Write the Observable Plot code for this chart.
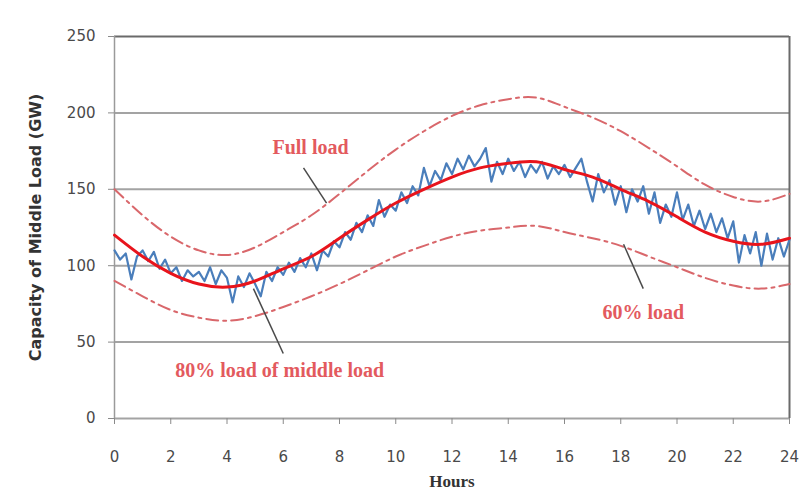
<!DOCTYPE html>
<html>
<head>
<meta charset="utf-8">
<script src="https://cdn.jsdelivr.net/npm/d3@7"></script>
<script src="https://cdn.jsdelivr.net/npm/@observablehq/plot@0.6"></script>
<style>
  html, body { margin: 0; padding: 0; background: #fff; }
  #chart { width: 799px; height: 493px; }
</style>
</head>
<body>
<div id="chart"></div>
<script>
// ---- data ----
const hours = [0,1,2,3,4,5,6,7,8,9,10,11,12,13,14,15,16,17,18,19,20,21,22,23,24];
const fullLoad   = [150,133,119,110,107,112,122,133,147,162,176,188,198,205,209,210,204,197,188,177,165,153,145,142,147];
const middleLoad = [120,106,95,88,86,90,98,106,118,130,141,150,158,164,167,168,163,158,150,142,132,122,116,114,118];
const load60     = [90,80,71,66,64,67,73,80,88,97,106,113,119,123,125,126,122,118,113,106,99,92,87,85,88];

// actual middle load, read every 0.2 h
const actualLoad = [
  110,104,108,91,106,110,
  103,109,98,104,95,
  99,90,97,93,96,
  90,99,88,97,92,
  76,93,86,95,88,
  80,96,90,99,94,
  102,96,105,99,108,
  97,110,106,116,112,
  122,117,128,122,133,
  126,143,132,140,136,
  148,141,152,146,164,
  152,162,156,167,160,
  170,163,172,165,170,
  177,155,168,160,170,
  162,168,158,166,161,
  168,157,165,160,166,
  158,164,170,155,142,
  160,148,156,140,152,
  135,150,142,152,134,
  148,128,140,132,148,
  130,140,126,136,124,
  134,122,131,118,129,
  102,120,108,122,100,
  121,104,118,106,117
];
const actualHours = actualLoad.map((_, i) => i * 0.2);

const xTicks = [0,2,4,6,8,10,12,14,16,18,20,22,24];
const yTicks = [0,50,100,150,200,250];

const labelTexts = ["Full load", "80% load of middle load", "60% load"];
const labelX = [6.97, 5.87, 18.8];
const labelY = [177, 31.4, 69.4];

const pointerX1 = [6.72, 4.94, 18.1];
const pointerY1 = [164, 85, 114];
const pointerX2 = [7.54, 6.0, 18.8];
const pointerY2 = [141, 42.5, 85];

// ---- build tables ----
const curves = hours.map((h, i) => ({h, full: fullLoad[i], mid: middleLoad[i], low: load60[i]}));
const actual = actualHours.map((h, i) => ({h, v: actualLoad[i]}));
const labels = labelTexts.map((t, i) => ({t, x: labelX[i], y: labelY[i]}));
const pointers = labelTexts.map((t, i) => ({x1: pointerX1[i], y1: pointerY1[i], x2: pointerX2[i], y2: pointerY2[i]}));

const dashColor = "#d9676b";
const labelColor = "#e35a5e";

const chart = Plot.plot({
  width: 799,
  height: 493,
  marginLeft: 114,
  marginRight: 10,
  marginTop: 36,
  marginBottom: 75,
  x: {domain: [0, 24]},
  y: {domain: [0, 250]},
  style: {background: "#fff", fontFamily: "'DejaVu Sans', sans-serif"},
  marks: [
    Plot.ruleY(yTicks.filter(d => d < 250), {stroke: "#a3a3a3", strokeWidth: 2}),
    Plot.ruleY([250], {stroke: "#6a6a6a", strokeWidth: 2}),
    Plot.ruleX([0], {stroke: "#9a9a9a", strokeWidth: 1.5}),
    Plot.ruleX([24], {stroke: "#6a6a6a", strokeWidth: 2}),
    Plot.axisY(yTicks, {tickSize: 6, tickPadding: 13, fontSize: 15, stroke: "#8a8a8a", fill: "#4a4a4a", label: null}),
    Plot.axisX(xTicks, {tickSize: 6, tickPadding: 27, fontSize: 15, stroke: "#8a8a8a", fill: "#4a4a4a", label: null}),
    Plot.line(curves, {x: "h", y: "full", curve: "natural", stroke: dashColor, strokeWidth: 2, strokeDasharray: "12,5,3,5"}),
    Plot.line(curves, {x: "h", y: "low", curve: "natural", stroke: dashColor, strokeWidth: 2, strokeDasharray: "12,5,3,5"}),
    Plot.line(actual, {x: "h", y: "v", stroke: "#4a7ebb", strokeWidth: 2.2, strokeLinejoin: "round"}),
    Plot.line(curves, {x: "h", y: "mid", curve: "natural", stroke: "#e8141c", strokeWidth: 3}),
    Plot.link(pointers, {x1: "x1", y1: "y1", x2: "x2", y2: "y2", stroke: "#4a4a4a", strokeWidth: 1.5}),
    Plot.text(labels, {x: "x", y: "y", text: "t", fill: labelColor, fontSize: 20, fontWeight: "bold", fontFamily: "'Liberation Serif', serif"}),
    Plot.text(["Hours"], {frameAnchor: "bottom", dy: 63, lineAnchor: "middle", fontSize: 17, fontWeight: "bold", fill: "#333", fontFamily: "'Liberation Serif', serif"}),
    Plot.text(["Capacity of Middle Load (GW)"], {frameAnchor: "left", dx: -79, rotate: -90, textAnchor: "middle", fontSize: 16, fontWeight: "bold", fill: "#333"})
  ]
});

document.getElementById("chart").appendChild(chart);
</script>
</body>
</html>
